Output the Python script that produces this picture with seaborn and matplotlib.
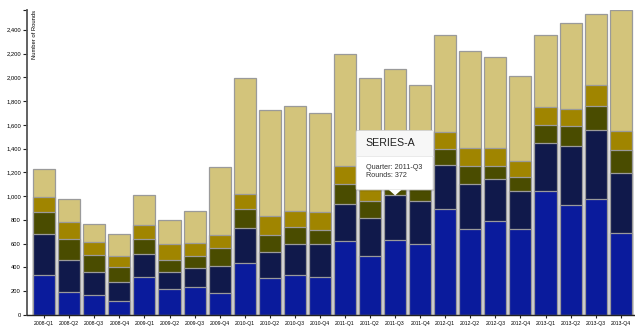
import matplotlib
matplotlib.use("Agg")
import matplotlib.pyplot as plt
import matplotlib.patches as mpatches
import seaborn as sns
import numpy as np

quarters = ["2008-Q1", "2008-Q2", "2008-Q3", "2008-Q4",
            "2009-Q1", "2009-Q2", "2009-Q3", "2009-Q4",
            "2010-Q1", "2010-Q2", "2010-Q3", "2010-Q4",
            "2011-Q1", "2011-Q2", "2011-Q3", "2011-Q4",
            "2012-Q1", "2012-Q2", "2012-Q3", "2012-Q4",
            "2013-Q1", "2013-Q2", "2013-Q3", "2013-Q4"]

seed = [334, 190, 166, 120, 317, 218, 233, 188, 440, 309, 334, 317,
        621, 494, 634, 598, 890, 724, 794, 727, 1047, 924, 979, 688]
series_a = [348, 275, 199, 160, 197, 147, 160, 227, 293, 224, 264, 283,
            316, 325, 372, 359, 373, 377, 349, 320, 404, 502, 576, 510]
series_b = [185, 172, 138, 127, 129, 101, 104, 147, 160, 138, 140, 118,
            169, 143, 130, 135, 132, 154, 114, 118, 149, 166, 205, 191]
series_c = [129, 144, 109, 87, 118, 130, 107, 109, 123, 160, 138, 149,
            149, 140, 140, 125, 146, 146, 147, 132, 146, 140, 174, 163]
other = [233, 193, 152, 191, 250, 207, 274, 573, 974, 893, 886, 832,
         937, 896, 791, 717, 811, 819, 769, 713, 606, 727, 595, 1014]

series_names = ["SEED", "SERIES-A", "SERIES-B", "SERIES-C", "OTHER"]
series_values = [seed, series_a, series_b, series_c, other]
colors = ["#0a1b9c", "#10194b", "#4a4c00", "#a08500", "#d3c47b"]

y_ticks = [0, 200, 400, 600, 800, 1000, 1200, 1400, 1600, 1800, 2000, 2200, 2400]

tooltip_series = "SERIES-A"
tooltip_quarter = "2011-Q3"

sns.set_style("white")
plt.rcParams["font.family"] = ["Liberation Sans", "DejaVu Sans"]

W, H = 635, 331
fig = plt.figure(figsize=(W / 100, H / 100), dpi=100)
ax = fig.add_axes([27 / W, (H - 315) / H, (635 - 27) / W, (315 - 10) / H])

cum = np.cumsum(np.array(series_values), axis=0)
for i in range(len(series_names) - 1, -1, -1):
    sns.barplot(x=quarters, y=cum[i], color=colors[i], saturation=1,
                width=0.88, edgecolor="#9a9a9a", linewidth=0.9,
                errorbar=None, ax=ax)

ymax = cum[-1].max()
ax.set_ylim(0, ymax)
ax.set_xlim(-0.686, 23.57)

ax.set_yticks(y_ticks + [ymax])
ax.set_yticklabels([f"{v:,}" for v in y_ticks] + [""])
ax.tick_params(axis="y", length=3.2, width=0.8, pad=1.2, labelsize=4.2,
               colors="#222222", left=True)
ax.tick_params(axis="x", length=2.5, width=0.8, pad=2.0, labelsize=3.7,
               colors="#222222", bottom=True)
for lab in ax.get_yticklabels() + ax.get_xticklabels():
    lab.set_color("black")

sns.despine(ax=ax, top=True, right=True)
ax.spines["left"].set_color("#555555")
ax.spines["left"].set_linewidth(1.3)
ax.spines["bottom"].set_color("#222222")
ax.spines["bottom"].set_linewidth(1.0)
ax.set_xlabel("")
ax.set_ylabel("")

# y axis title inside the plot, rotated
fig.text(34 / W, 1 - 10 / H, "Number of Rounds", rotation=90, ha="center",
         va="top", fontsize=4.2, color="black")

# tooltip
fig.canvas.draw()
qi = quarters.index(tooltip_quarter)
si = series_names.index(tooltip_series)
val = series_values[si][qi]
tip_disp = ax.transData.transform((qi, cum[si][qi]))
tx, ty = tip_disp[0], H - tip_disp[1]  # pixel coords from top


def fx(x):
    return x / W


def fy(y):
    return 1 - y / H


bx0, bx1 = tx - 39, tx + 38
by0, by1 = ty - 65, ty - 5.5
# shadow
shadow = mpatches.FancyBboxPatch((fx(bx0 + 1), fy(by1 + 1.5)), fx(bx1 - bx0), (by1 - by0) / H,
                                 boxstyle="round,pad=0,rounding_size=0.004",
                                 transform=fig.transFigure, facecolor="#000000",
                                 alpha=0.12, edgecolor="none", zorder=10)
fig.add_artist(shadow)
box = mpatches.FancyBboxPatch((fx(bx0), fy(by1)), fx(bx1 - bx0), (by1 - by0) / H,
                              boxstyle="round,pad=0,rounding_size=0.004",
                              transform=fig.transFigure, facecolor="white",
                              edgecolor="#d0d0d0", linewidth=0.6, zorder=11)
fig.add_artist(box)
header = mpatches.Rectangle((fx(bx0 + 0.5), fy(by0 + 26)), fx(bx1 - bx0 - 1), 25.5 / H,
                            transform=fig.transFigure, facecolor="#f7f7f7",
                            edgecolor="none", zorder=12)
fig.add_artist(header)
sep = plt.Line2D([fx(bx0 + 0.5), fx(bx1 - 0.5)], [fy(by0 + 26), fy(by0 + 26)],
                 transform=fig.transFigure, color="#e6e6e6", linewidth=0.6, zorder=13)
fig.add_artist(sep)
arrow = mpatches.Polygon([(fx(tx - 6.5), fy(by1 - 0.3)), (fx(tx + 6.5), fy(by1 - 0.3)),
                          (fx(tx), fy(ty))], closed=True, transform=fig.transFigure,
                         facecolor="white", edgecolor="none", zorder=12)
fig.add_artist(arrow)
fig.text(fx(bx0 + 9.5), fy(by0 + 13), tooltip_series, fontsize=7.7, color="#222222",
         ha="left", va="center", zorder=14)
fig.text(fx(bx0 + 9.5), fy(by0 + 37.5), f"Quarter: {tooltip_quarter}", fontsize=5.2,
         color="#333333", ha="left", va="center", zorder=14)
fig.text(fx(bx0 + 9.5), fy(by0 + 45), f"Rounds: {val}", fontsize=5.2,
         color="#333333", ha="left", va="center", zorder=14)

fig.savefig("out.png", dpi=100)
